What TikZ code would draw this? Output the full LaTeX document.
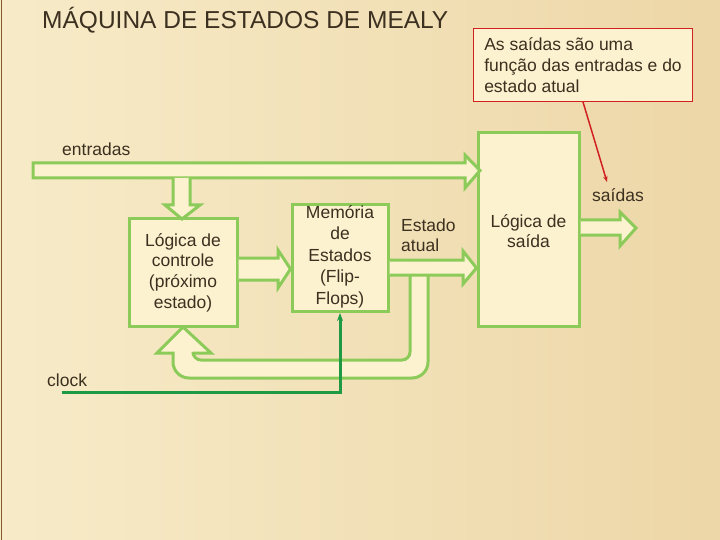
\documentclass[tikz,border=0pt]{standalone}
\usepackage{fontspec}
\setmainfont{Liberation Sans}
\usetikzlibrary{arrows.meta}
\definecolor{gr}{HTML}{8CCB5A}
\definecolor{cr}{HTML}{FCF2CF}
\definecolor{bg}{HTML}{F5E6BA}
\definecolor{tx}{HTML}{3C3020}
\definecolor{dg}{HTML}{1E9A45}
\definecolor{rd}{HTML}{D02020}
\tikzset{
  blk/.style={draw=gr,line width=3pt,fill=cr,inner sep=0pt,text=tx,align=center,font=\fontsize{17.5}{20.7}\selectfont},
  barrow/.style={draw=gr,line width=3pt,fill=cr,line join=miter},
  lbl/.style={text=tx,font=\fontsize{17.5}{20}\selectfont,inner sep=0pt,align=left}
}
\begin{document}
\begin{tikzpicture}[x=1pt,y=-1pt]
\useasboundingbox (0,0) rectangle (720,540);
\shade[left color=bg!80!white, right color=bg!85!brown] (0,0) rectangle (720,540);
\draw[brown!70!black,line width=1pt] (1,0) -- (1,540);
% title
\node[text=tx,anchor=west,inner sep=0pt,font=\fontsize{24.5}{28}\selectfont] (title) at (42,20) {MÁQUINA DE ESTADOS DE MEALY};
% red note
\node[draw=rd,line width=1pt,fill=cr,anchor=north west,minimum width=219pt,minimum height=73pt,align=left,inner sep=6pt,text=tx,font=\fontsize{17.5}{21}\selectfont] (note) at (473,28) {As saídas são uma\\função das entradas e do\\estado atual};
% boxes
\node[blk,minimum width=108pt,minimum height=107pt] (ctl) at (183,272.5) {Lógica de\\controle\\(próximo\\estado)};
\node[blk,minimum width=96pt,minimum height=107pt,anchor=north] (mem) at (340,203) {};
\node[text=tx,align=center,font=\fontsize{17.5}{21.5}\selectfont,anchor=north,inner sep=0pt] (memt) at (340,205) {Memória\\de\\Estados\\(Flip-\\Flops)};
\node[blk,minimum width=101pt,minimum height=193pt] (out) at (528.5,229.5) {};
\node[text=tx,align=center,font=\fontsize{17.5}{20}\selectfont,inner sep=0pt] (outt) at (528.5,231) {Lógica de\\saída};
% entradas bus
\draw[barrow] (33,163) -- (465,163) -- (465,155) -- (480,170.5) -- (465,188) -- (465,178) -- (33,178) -- cycle;
\node[lbl,anchor=west] (ent) at (62,149) {entradas};
% down arrow
\draw[barrow] (173,178) -- (173,205) -- (165,205) -- (182,219) -- (200,205) -- (190,205) -- (190,178);
% ctl -> mem
\draw[barrow] (ctl.east|-0,258) -- (278,258) -- (278,250) -- (mem.west|-0,269) -- (278,288) -- (278,280) -- (ctl.east|-0,280);
% feedback
\draw[barrow,rounded corners=16pt] (428,275) -- (428,378) -- (173,378) [sharp corners]-- (173,353) -- (157,353) -- (183,327) -- (211,353) -- (193,353) [rounded corners=8pt]-- (193,360) -- (410,360) [sharp corners]-- (410,275);
% estado atual arrow
\draw[barrow] (mem.east|-0,260) -- (463,260) -- (463,251) -- (out.west|-0,268) -- (463,284) -- (463,275) -- (mem.east|-0,275);
\node[lbl,anchor=north west] (est) at (401,219) {Estado\\atual};
% output arrow
\draw[barrow] (out.east|-0,220) -- (620,220) -- (620,212) -- (636,228) -- (620,246) -- (620,235) -- (out.east|-0,235);
\node[lbl] (sai) at (618,195) {saídas};
% red pointer
\draw[rd,line width=1.5pt,-{Stealth[length=6pt]}] (note.south west) ++(110,0) coordinate (p) -- (607,182);
% clock
\node[lbl,anchor=west] (clk) at (47,380) {clock};
\coordinate (c0) at (62,392);
\draw[dg,line width=3pt,-{Stealth[length=8pt]}] (c0) -- (340,392) -- (mem.south);
\end{tikzpicture}
\end{document}
